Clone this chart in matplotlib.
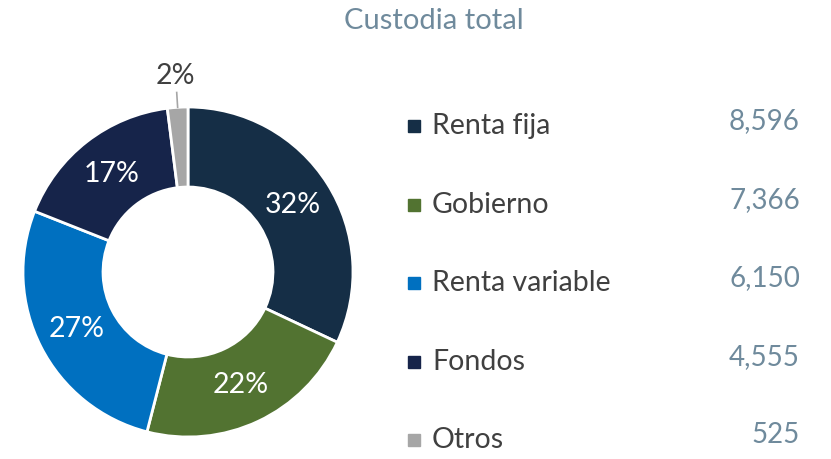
import numpy as np
import matplotlib.pyplot as plt
from matplotlib.patches import Rectangle

plt.rcParams['font.family'] = ['Lato', 'DejaVu Sans']

categories = ['Renta fija', 'Gobierno', 'Renta variable', 'Fondos', 'Otros']
amounts = ['8,596', '7,366', '6,150', '4,555', '525']
shares = [32, 22, 27, 17, 2]
colors = ['#152E46', '#527331', '#0070C0', '#16244A', '#A6A6A6']

W, H = 831, 459
fig = plt.figure(figsize=(W / 100, H / 100), dpi=100)

# donut: center (188, 272) px, radius 165 px
cx, cy, r = 188, 272, 165
ax = fig.add_axes([(cx - r) / W, (H - cy - r) / H, 2 * r / W, 2 * r / H])
wedges, _ = ax.pie(shares, colors=colors, startangle=90, counterclock=False,
                   radius=1.0, wedgeprops=dict(width=0.485, edgecolor='white', linewidth=2))
ax.set_xlim(-1, 1)
ax.set_ylim(-1, 1)
ax.set_aspect('equal')
ax.axis('off')

for w, s in zip(wedges, shares):
    ang = np.deg2rad((w.theta1 + w.theta2) / 2)
    if s < 5:
        ax.plot([np.cos(ang) * 1.0, np.cos(ang) * 1.09], [np.sin(ang) * 1.0, np.sin(ang) * 1.09],
                color='#A6A6A6', lw=1.2, clip_on=False)
        ax.text(np.cos(ang) * 1.2, np.sin(ang) * 1.19, f'{s}%', ha='center', va='center',
                fontsize=20.5, color='#404040', clip_on=False)
    else:
        ax.text(np.cos(ang) * 0.755, np.sin(ang) * 0.755, f'{s}%', ha='center', va='center',
                fontsize=20.5, color='white')

# title
fig.text(434 / W, 1 - 21 / H, 'Custodia total', ha='center', va='center',
         fontsize=21, color='#6F8A9C')

# legend with values
row_y = [126, 205, 283, 362, 440]
for y, name, amt, c in zip(row_y, categories, amounts, colors):
    fig.patches.append(Rectangle(((408) / W, 1 - (y + 6) / H), 12 / W, 12 / H,
                                 transform=fig.transFigure, color=c))
    fig.text(432 / W, 1 - y / H, name, ha='left', va='center', fontsize=20.5, color='#404040')
    fig.text(800 / W, 1 - (y - 5) / H, amt, ha='right', va='center', fontsize=20, color='#6F8A9C')

fig.savefig('out.png', dpi=100)
